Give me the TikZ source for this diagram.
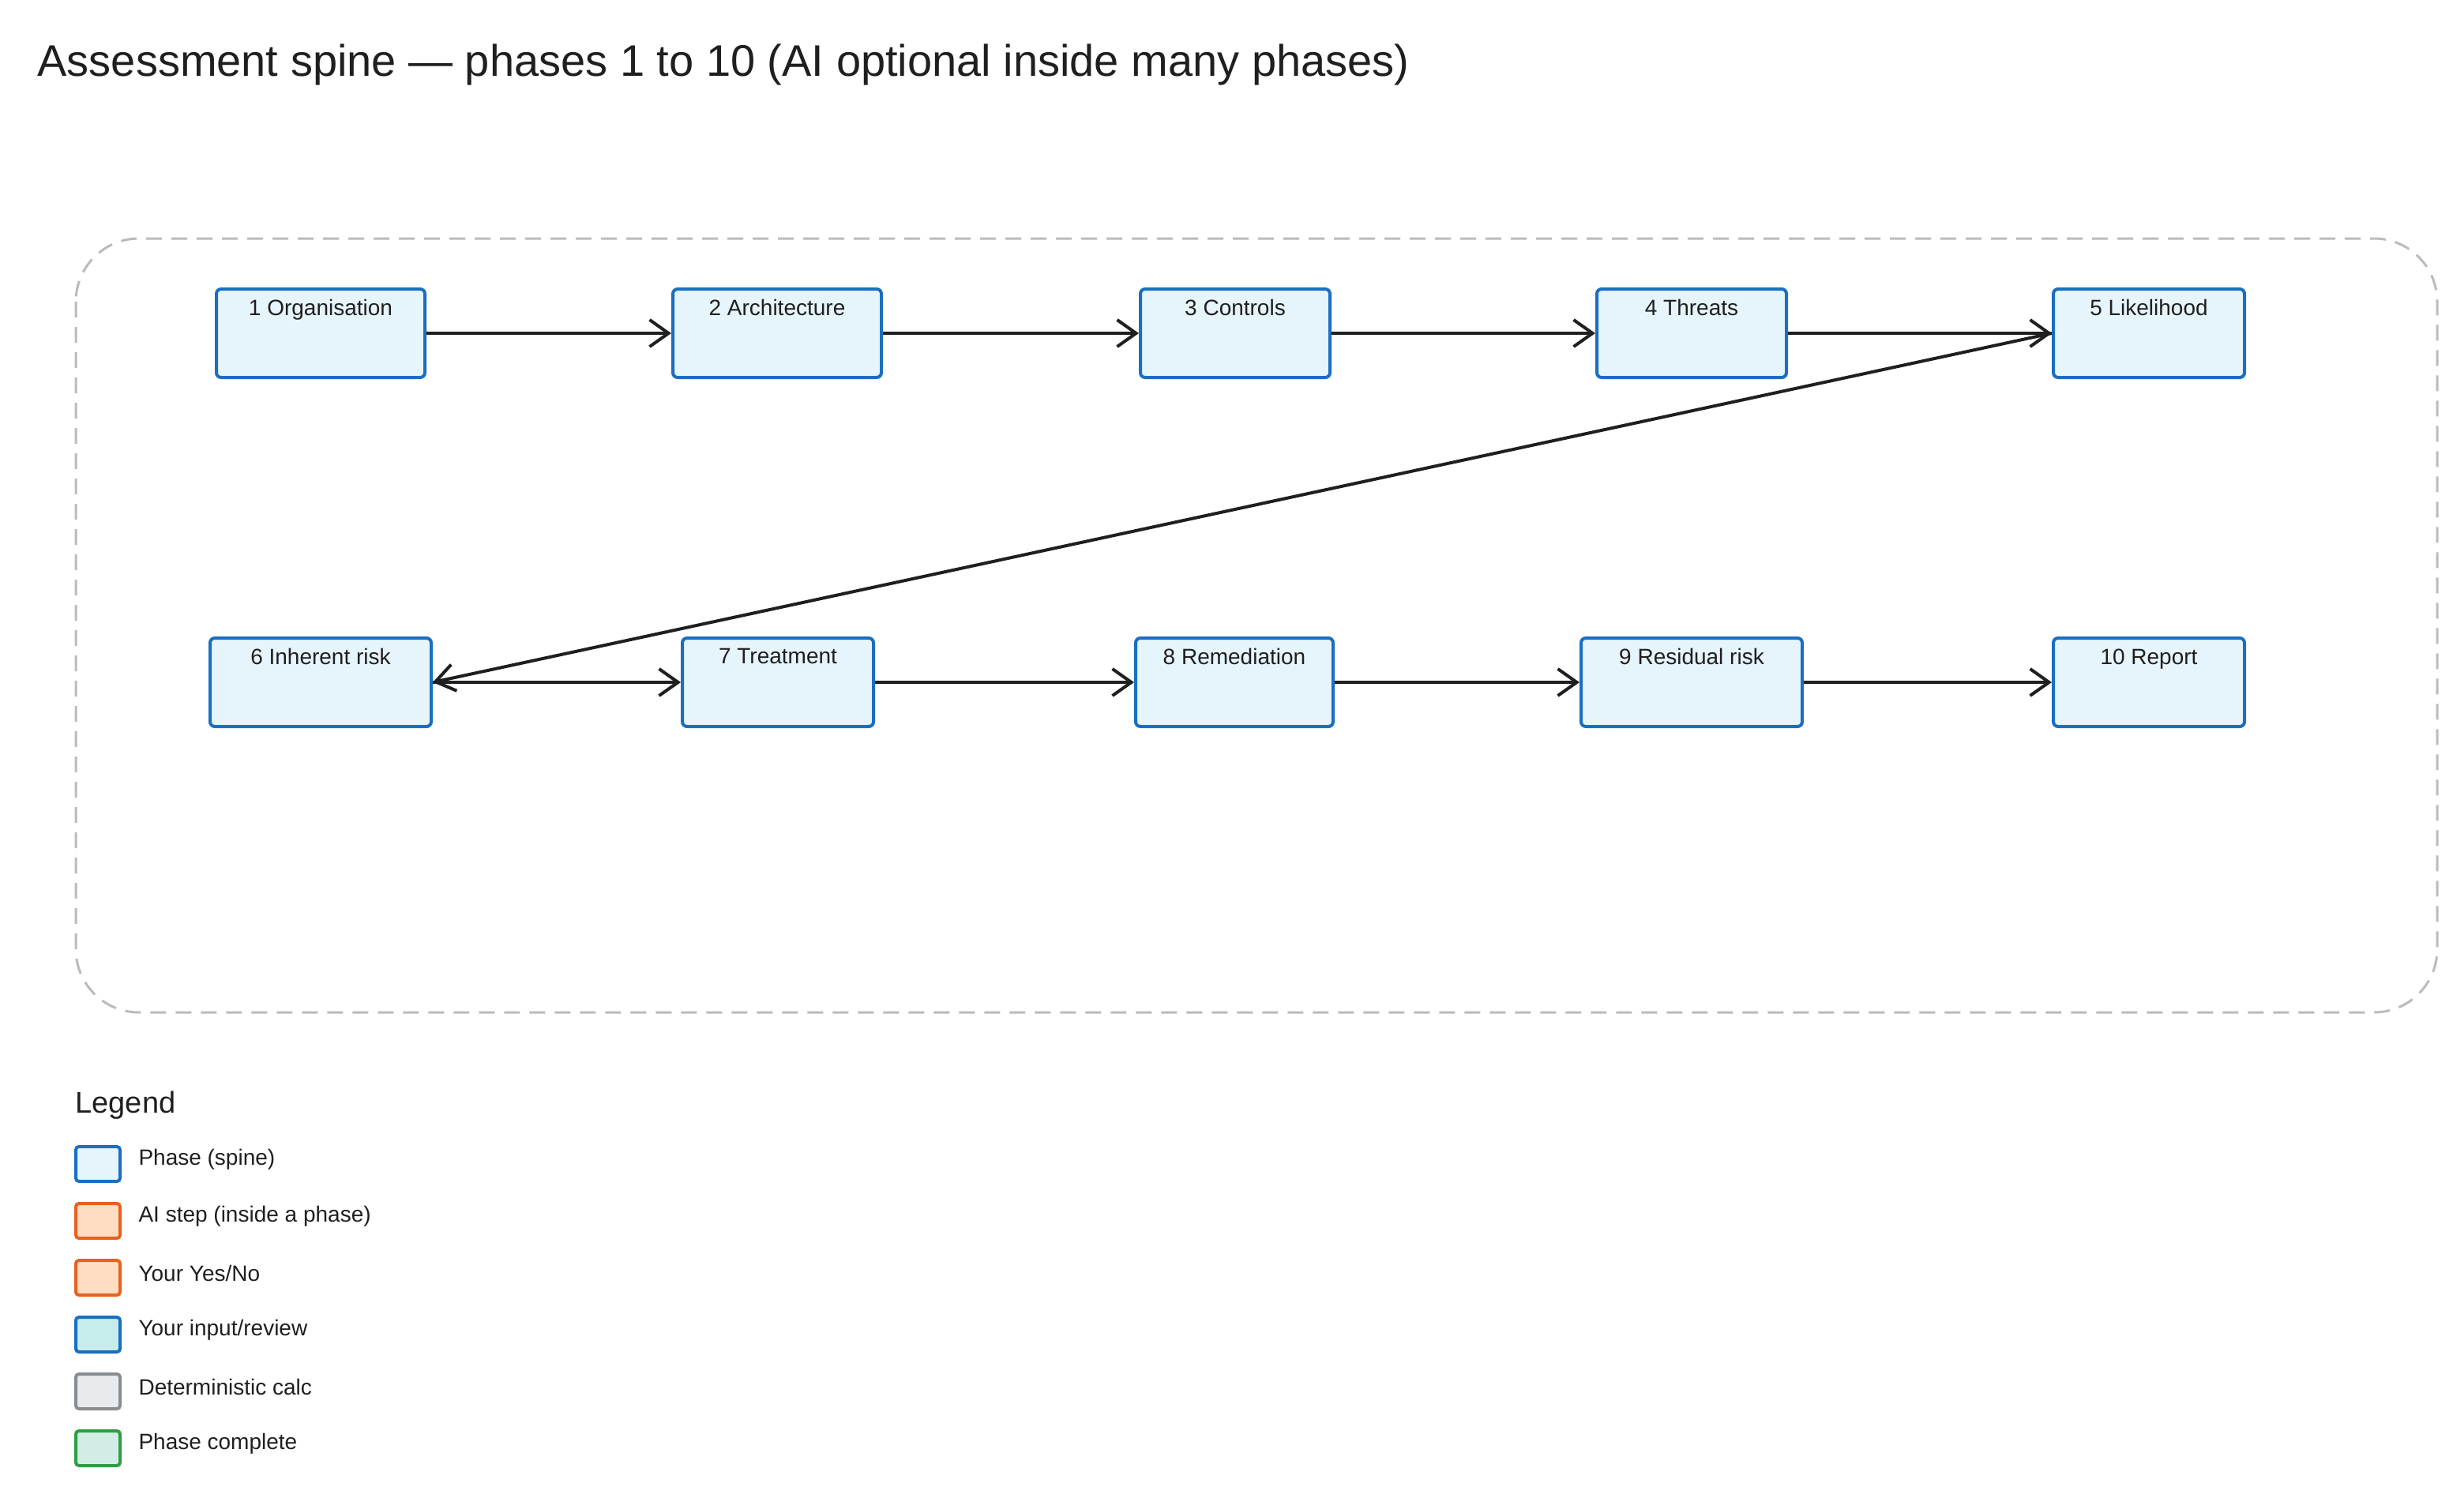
\documentclass[tikz,border=0pt]{standalone}
\usepackage{fontspec}
\setmainfont{Liberation Sans}
\usetikzlibrary{arrows.meta}
\definecolor{pfill}{HTML}{E6F4FC}
\definecolor{pdraw}{HTML}{1A6FC0}
\definecolor{ofill}{HTML}{FFDDC2}
\definecolor{odraw}{HTML}{E8611E}
\definecolor{tfill}{HTML}{C6ECEB}
\definecolor{gfill}{HTML}{E8EBED}
\definecolor{gdraw}{HTML}{8A8D90}
\definecolor{cfill}{HTML}{D3EDE6}
\definecolor{cdraw}{HTML}{2E9E44}
\definecolor{txt}{HTML}{1F1F1F}
\begin{document}
\begin{tikzpicture}[x=2pt,y=-2pt,
  box/.style={draw=pdraw,fill=pfill,line width=4pt,rounded corners=6pt,minimum height=112pt},
  lbl/.style={anchor=north,font=\fontsize{28pt}{32pt}\selectfont,text=txt,yshift=-12pt},
  arr/.style={draw=txt,line width=4pt,-{Straight Barb[length=24pt,width=34pt,line width=4pt]}},
  leg/.style={line width=4pt,rounded corners=4pt,minimum width=56pt,minimum height=44pt,inner sep=0pt},
  legt/.style={anchor=west,font=\fontsize{28pt}{32pt}\selectfont,text=txt}]
\useasboundingbox (0,0) rectangle (1560,948);
\node[anchor=west,font=\fontsize{56pt}{64pt}\selectfont,text=txt] (title) at (22,41) {Assessment spine — phases 1 to 10 (AI optional inside many phases)};
\draw[gdraw!60,line width=3pt,dash pattern=on 20pt off 12pt,rounded corners=80pt] (48,151) rectangle (1543,641);
\node[box,minimum width=264pt] (n1) at (203,211) {};
\node[box,minimum width=264pt] (n2) at (492,211) {};
\node[box,minimum width=240pt] (n3) at (782,211) {};
\node[box,minimum width=240pt] (n4) at (1071,211) {};
\node[box,minimum width=242pt] (n5) at (1360.5,211) {};
\node[box,minimum width=280pt] (n6) at (203,432) {};
\node[box,minimum width=242pt] (n7) at (492.5,432) {};
\node[box,minimum width=250pt] (n8) at (781.5,432) {};
\node[box,minimum width=280pt] (n9) at (1071,432) {};
\node[box,minimum width=242pt] (n10) at (1360.5,432) {};
\node[lbl] (t1) at (n1.north) {1 Organisation};
\node[lbl] (t2) at (n2.north) {2 Architecture};
\node[lbl] (t3) at (n3.north) {3 Controls};
\node[lbl] (t4) at (n4.north) {4 Threats};
\node[lbl] (t5) at (n5.north) {5 Likelihood};
\node[lbl] (t6) at (n6.north) {6 Inherent risk};
\node[lbl] (t7) at (n7.north) {7 Treatment};
\node[lbl] (t8) at (n8.north) {8 Remediation};
\node[lbl] (t9) at (n9.north) {9 Residual risk};
\node[lbl] (t10) at (n10.north) {10 Report};
\draw[arr] (n1.east) -- (n2.west);
\draw[arr] (n2.east) -- (n3.west);
\draw[arr] (n3.east) -- (n4.west);
\draw[arr] (n4.east) -- (n5.west);
\draw[arr] (n5.west) -- (n6.east);
\draw[arr] (n6.east) -- (n7.west);
\draw[arr] (n7.east) -- (n8.west);
\draw[arr] (n8.east) -- (n9.west);
\draw[arr] (n9.east) -- (n10.west);
\node[anchor=west,font=\fontsize{38pt}{44pt}\selectfont,text=txt] (lg) at (46,700) {Legend};
\node[leg,draw=pdraw,fill=pfill] (l1) at (62,737) {};
\node[leg,draw=odraw,fill=ofill] (l2) at (62,773) {};
\node[leg,draw=odraw,fill=ofill] (l3) at (62,809) {};
\node[leg,draw=pdraw,fill=tfill] (l4) at (62,845) {};
\node[leg,draw=gdraw,fill=gfill] (l5) at (62,881) {};
\node[leg,draw=cdraw,fill=cfill] (l6) at (62,917) {};
\node[legt] at (86,734) {Phase (spine)};
\node[legt] at (86,770) {AI step (inside a phase)};
\node[legt] at (86,806) {Your Yes/No};
\node[legt] at (86,842) {Your input/review};
\node[legt] at (86,878) {Deterministic calc};
\node[legt] at (86,914) {Phase complete};
\end{tikzpicture}
\end{document}
